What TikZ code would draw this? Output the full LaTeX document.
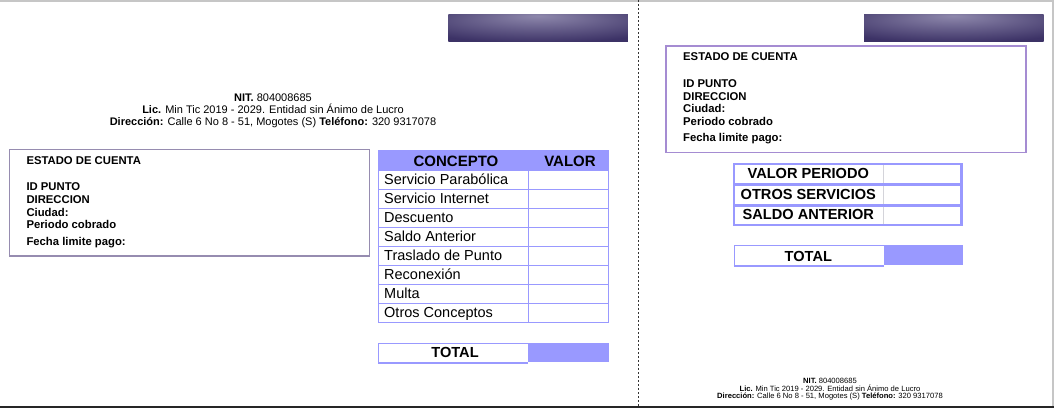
\documentclass[tikz,border=0pt]{standalone}
\usepackage{fontspec}
\setmainfont{Liberation Sans}
\usetikzlibrary{positioning}
\definecolor{lav}{RGB}{153,153,255}
\definecolor{bardark}{RGB}{60,50,102}
\definecolor{barlight}{RGB}{142,136,172}
\definecolor{boxgray}{RGB}{150,140,176}
\definecolor{boxpurple}{RGB}{165,140,210}
\definecolor{celldiv}{RGB}{212,212,218}
\pgfdeclareradialshading{barglow}{\pgfpoint{0bp}{22bp}}{color(0bp)=(barlight); color(38bp)=(bardark); color(80bp)=(bardark)}
\tikzset{
  infotext/.style={anchor=base west, inner sep=0pt, font=\bfseries\fontsize{11.3}{13}\selectfont},
  celltext/.style={anchor=base west, inner sep=0pt, font=\fontsize{14.5}{16}\selectfont},
  headtext/.style={anchor=base, inner sep=0pt, font=\bfseries\fontsize{14.6}{16}\selectfont},
  headline/.style={anchor=base, inner sep=0pt, font=\fontsize{11}{13}\selectfont},
  footline/.style={anchor=base, inner sep=0pt, font=\fontsize{7.6}{9}\selectfont}
}

\begin{document}
\begin{tikzpicture}[x=1pt, y=-1pt]
        \useasboundingbox (0,0) rectangle (1054,408);
        % Page edges and fold
        \draw[gray!45, line width=1.5pt] (0,0.75) -- (1054,0.75);
        \draw[gray!45, line width=1.5pt] (1053,0) -- (1053,406);
        \draw[black!85, line width=2pt] (0,407) -- (1054,407);
        \draw[black!80, line width=1.2pt, dash pattern=on 2pt off 2pt] (638.3,0) -- (638.3,406);
        % Logo bars
        \foreach \bx in {448.3, 864} {
          \shade[shading=barglow] (\bx,14) rectangle (\bx+179.5,41.7);
        }
        % Company data, front
        \node[headline] (nitA) at (273,101.7) {\textbf{NIT.} 804008685};
        \node[headline] (licA) at (273,113.3) {\textbf{Lic.} Min Tic 2019 - 2029. Entidad sin Ánimo de Lucro};
        \node[headline] (dirA) at (273,125) {\textbf{Dirección:} Calle 6 No 8 - 51, Mogotes (S) \textbf{Teléfono:} 320 9317078};
        % Company data, back
        \node[footline] (nitB) at (830,383.5) {\textbf{NIT.} 804008685};
        \node[footline] (licB) at (830,391) {\textbf{Lic.} Min Tic 2019 - 2029. Entidad sin Ánimo de Lucro};
        \node[footline] (dirB) at (830,398.5) {\textbf{Dirección:} Calle 6 No 8 - 51, Mogotes (S) \textbf{Teléfono:} 320 9317078};
        % Account boxes
        \foreach \bx/\by/\bc/\bn in {9.3/149.3/boxgray/A, 666/46/boxpurple/B} {
          \draw[\bc, line width=1.3pt] (\bx,\by) rectangle (\bx+360,\by+106.7);
          \foreach \dy/\txt [count=\i] in {14.7/ESTADO DE CUENTA, 41/ID PUNTO, 54/DIRECCION,
                                           66.7/Ciudad:, 79.3/Periodo cobrado, 95.7/Fecha limite pago:} {
            \node[infotext] (info\bn\i) at (\bx+17,\by+\dy) {\txt};
          }
        }
        % Concept table
        \fill[lav] (378,150) rectangle (609,170);
        \node[headtext, font=\bfseries\fontsize{15}{16}\selectfont] (concepto) at (456,166) {CONCEPTO};
        \node[headtext, font=\bfseries\fontsize{15}{16}\selectfont] (valor) at (570,166) {VALOR};
        \foreach \txt [count=\r from 0] in {Servicio Parabólica, Servicio Internet, Descuento, Saldo Anterior,
                                            Traslado de Punto, Reconexión, Multa, Otros Conceptos} {
          \draw[lav, line width=1pt] (378.5,170+\r*19.1) rectangle (608.5,189.1+\r*19.1);
          \draw[lav, line width=1pt] (528,170+\r*19.1) -- (528,189.1+\r*19.1);
          \node[celltext] (concept\r) at (384,184.2+\r*19.1) {\txt};
        }
        % Total, front
        \fill[lav] (528,342.7) rectangle (609,361.7);
        \draw[lav, line width=1pt] (528,343.2) -- (378.5,343.2) -- (378.5,363);
        \draw[lav, line width=2.4pt] (378,362.8) -- (528,362.8);
        \node[headtext] (totalA) at (455,357.3) {TOTAL};
        % Summary table
        \foreach \txt [count=\r from 0] in {VALOR PERIODO, OTROS SERVICIOS, SALDO ANTERIOR} {
          \draw[lav, line width=2pt] (734.3,164.3+\r*20.7) rectangle (961.7,184+\r*20.7);
          \draw[celldiv, line width=1pt] (883.3,165.3+\r*20.7) -- (883.3,183+\r*20.7);
          \node[headtext] (summary\r) at (808.3,178.5+\r*20.7) {\txt};
        }
        \draw[lav, line width=3pt] (961.2,163.3) -- (961.2,225.4);
        % Total, back
        \fill[lav] (884,245) rectangle (962.7,265);
        \draw[lav, line width=1pt] (884,245.5) -- (734,245.5) -- (734,267);
        \draw[lav, line width=2.3pt] (733.5,266.2) -- (884,266.2);
        \node[headtext] (totalB) at (808.3,261.7) {TOTAL};
      \end{tikzpicture}
\end{document}
